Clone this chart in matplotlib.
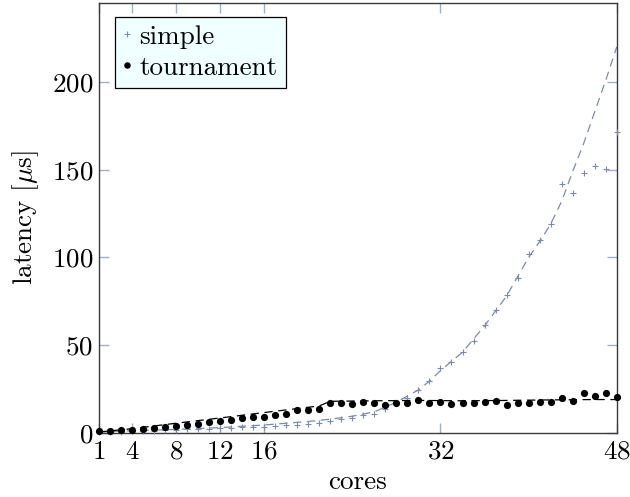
import matplotlib
matplotlib.use("Agg")
import matplotlib.pyplot as plt

plt.rcParams["font.family"] = ["cmr10", "DejaVu Serif"]
plt.rcParams["mathtext.fontset"] = "cm"
plt.rcParams["axes.formatter.use_mathtext"] = True
plt.rcParams["lines.scale_dashes"] = False

# measured latency per core count
cores = list(range(1, 49))
simple = [0.3, 0.5, 0.7, 0.9, 1.1, 1.3, 1.6, 1.8, 2.0, 2.2, 2.4, 2.6,
          3.0, 3.4, 3.2, 3.6, 4.2, 4.6, 4.6, 5.1, 5.5, 6.8, 8.1, 8.7,
          10.3, 10.7, 13.7, 17.3, 19.8, 24.6, 29.3, 36.7, 40.4, 46.1, 52.6, 61.3,
          69.8, 78.5, 88.5, 101.7, 110.1, 119.3, 141.7, 136.6, 148.2, 151.9, 150.2, 171.6]
tournament = [0.8, 1.1, 1.5, 1.9, 2.5, 3.0, 3.4, 3.9, 4.6, 5.1, 6.0, 6.7,
              7.5, 8.4, 9.1, 9.0, 10.1, 11.0, 13.1, 13.0, 13.7, 17.3, 17.3, 16.2,
              17.8, 17.3, 15.8, 17.3, 16.9, 18.9, 17.3, 17.8, 16.4, 17.0, 16.9, 17.7,
              18.1, 16.0, 17.1, 17.1, 17.4, 17.4, 19.6, 17.9, 22.5, 20.8, 22.9, 20.4]

# trend curves
simple_fit_cores = [1, 4, 8, 12, 16, 20, 22, 24, 26, 28, 30, 31, 32, 34, 36, 38,
                    40, 41, 42, 43, 44, 45, 46, 47, 48]
simple_fit = [0.5, 1.2, 2.0, 3.0, 4.5, 6.5, 7.8, 9.5, 12.0, 17.5, 24.5, 29.5,
              35.5, 46.0, 61.0, 78.0, 100.0, 109.0, 119.0, 132.0, 149.0, 165.0,
              183.0, 201.0, 220.0]
tournament_fit_cores = [1, 4, 8, 12, 16, 20, 21, 22, 26, 30, 34, 38, 42, 46, 48]
tournament_fit = [0.5, 2.4, 5.5, 8.5, 11.6, 14.6, 15.4, 18.0, 18.3, 18.5, 18.3,
                  18.5, 18.8, 19.0, 19.0]

xticks = [1, 4, 8, 12, 16, 32, 48]
yticks = [0, 50, 100, 150, 200]

blue_gray = "#7d8aa8"
tick_color = "#a3aec3"
fs = 19.5

fig = plt.figure(figsize=(6.3, 4.97), dpi=100)
ax = fig.add_axes([0.157, 0.129, 0.822, 0.865])

ax.plot(simple_fit_cores, simple_fit, color=blue_gray, lw=0.9, dashes=(6, 4))
ax.plot(tournament_fit_cores, tournament_fit, color="black", lw=0.9, dashes=(6, 4))
ax.plot(cores, simple, ls="none", marker="+", ms=5, mew=0.8, color=blue_gray,
        label="simple", clip_on=False, zorder=3)
ax.plot(cores, tournament, ls="none", marker="o", ms=5.2, mew=0, color="black",
        label="tournament", clip_on=False, zorder=4)

ax.set_xlim(1, 48)
ax.set_ylim(0, 245)
ax.set_xticks(xticks)
ax.set_yticks(yticks)
ax.tick_params(direction="in", length=7, width=1.0, color=tick_color,
               top=True, right=True, labelsize=fs)
ax.tick_params(axis="x", pad=5)
ax.tick_params(axis="y", pad=4)
for s in ax.spines.values():
    s.set_color("#3a3a3a")
    s.set_linewidth(1.0)

ax.set_xlabel("cores", fontsize=fs, labelpad=5)
ax.set_ylabel(r"latency [$\mu$s]", fontsize=fs, labelpad=8)

leg = ax.legend(loc="upper left", fontsize=fs, frameon=True, fancybox=False,
                handlelength=0.3, handletextpad=0.3, borderpad=0.3,
                labelspacing=0.25, borderaxespad=0.0,
                bbox_to_anchor=(0.031, 0.968), markerscale=0.9)
leg.get_frame().set_facecolor("#f0ffff")
leg.get_frame().set_edgecolor("black")
leg.get_frame().set_linewidth(0.9)
leg.get_frame().set_alpha(1.0)

fig.savefig("out.png", dpi=100)
